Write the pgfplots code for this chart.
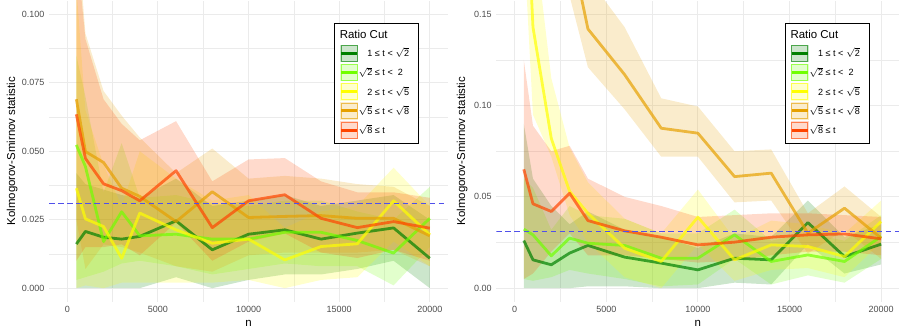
\documentclass[border=0pt]{standalone}
\usepackage{pgfplots}
\pgfplotsset{compat=1.18}
\usepgfplotslibrary{fillbetween}
\usepackage{pgfplotstable}
\usepackage{fontspec}
\setmainfont{Liberation Sans}

\definecolor{cG1}{HTML}{008000}
\definecolor{cG2}{HTML}{70FF00}
\definecolor{cY}{HTML}{FFFF00}
\definecolor{cO}{HTML}{E6A000}
\definecolor{cR}{HTML}{FF4500}
\definecolor{gridc}{HTML}{EBEBEB}
\definecolor{tickc}{HTML}{4D4D4D}
\definecolor{hlc}{RGB}{80,80,235}

\pgfplotstableread{
n g1 g1lo g1hi g2 g2lo g2hi y ylo yhi o olo ohi r rlo rhi
500 0.0161 0.000 0.042 0.0523 0.003 0.085 0.0365 0.000 0.110 0.0690 0.025 0.135 0.0635 0.010 0.125
1000 0.0207 0.000 0.038 0.0444 0.004 0.070 0.0253 0.001 0.065 0.0499 0.007 0.093 0.0474 0.015 0.091
2000 0.0186 0.000 0.036 0.0170 0.006 0.035 0.0225 0.000 0.045 0.0459 0.016 0.072 0.0381 0.015 0.069
3000 0.0179 0.000 0.034 0.0279 0.009 0.053 0.0109 0.002 0.030 0.0365 0.015 0.063 0.0356 0.016 0.060
4000 0.0189 0.000 0.033 0.0191 0.010 0.033 0.0274 0.002 0.050 0.0335 0.013 0.055 0.0319 0.012 0.054
6000 0.0246 0.004 0.040 0.0197 0.008 0.034 0.0213 0.002 0.040 0.0243 0.008 0.042 0.0429 0.024 0.061
8000 0.0140 0.000 0.030 0.0179 0.005 0.031 0.0164 0.002 0.032 0.0352 0.006 0.051 0.0221 0.010 0.039
10000 0.0197 0.003 0.032 0.0179 0.007 0.030 0.0179 0.003 0.034 0.0258 0.012 0.040 0.0319 0.017 0.047
12000 0.0213 0.005 0.034 0.0204 0.009 0.032 0.0103 0.000 0.022 0.0262 0.013 0.041 0.0341 0.020 0.0475
14000 0.0179 0.005 0.030 0.0204 0.008 0.032 0.0152 0.003 0.028 0.0265 0.013 0.040 0.0255 0.013 0.039
16000 0.0201 0.007 0.032 0.0174 0.008 0.028 0.0162 0.004 0.030 0.0255 0.013 0.038 0.0221 0.011 0.035
18000 0.0220 0.010 0.034 0.0128 0.001 0.025 0.0319 0.017 0.044 0.0255 0.014 0.037 0.0243 0.014 0.035
20000 0.0109 0.000 0.025 0.0255 0.015 0.037 0.0195 0.008 0.030 0.0191 0.008 0.030 0.0219 0.010 0.033
}\leftdata

\pgfplotstableread{
n g1 g1lo g1hi g2 g2lo g2hi y ylo yhi o olo ohi r rlo rhi
500 0.0261 0.000 0.090 0.0323 0.005 0.060 0.250 0.190 0.320 0.450 0.400 0.500 0.0651 0.005 0.125
1000 0.0155 0.000 0.060 0.0292 0.004 0.055 0.143 0.095 0.200 0.350 0.300 0.400 0.0462 0.008 0.089
2000 0.0128 0.000 0.045 0.0177 0.006 0.032 0.082 0.072 0.115 0.250 0.210 0.300 0.0420 0.020 0.075
3000 0.0192 0.000 0.035 0.0274 0.010 0.045 0.053 0.040 0.077 0.190 0.160 0.230 0.0520 0.030 0.078
4000 0.0234 0.001 0.042 0.0246 0.008 0.040 0.041 0.025 0.058 0.142 0.121 0.170 0.0370 0.018 0.060
6000 0.0170 0.001 0.032 0.0234 0.005 0.038 0.0219 0.006 0.038 0.117 0.098 0.143 0.0314 0.018 0.050
8000 0.0137 0.000 0.028 0.0164 0.001 0.030 0.0146 0.000 0.030 0.0876 0.072 0.104 0.0279 0.016 0.045
10000 0.0100 0.000 0.022 0.0164 0.002 0.030 0.0389 0.024 0.054 0.0849 0.072 0.0995 0.0237 0.014 0.039
12000 0.0164 0.003 0.030 0.0292 0.016 0.043 0.0155 0.004 0.027 0.0611 0.047 0.075 0.0252 0.015 0.040
14000 0.0155 0.002 0.028 0.0146 0.002 0.026 0.0237 0.010 0.037 0.0630 0.048 0.076 0.0279 0.018 0.041
16000 0.0359 0.024 0.048 0.0182 0.007 0.030 0.0228 0.011 0.035 0.0301 0.019 0.041 0.0292 0.020 0.041
18000 0.0173 0.008 0.028 0.0146 0.003 0.026 0.0173 0.006 0.030 0.0438 0.032 0.0557 0.0297 0.020 0.040
20000 0.0241 0.013 0.035 0.0283 0.016 0.040 0.0365 0.025 0.048 0.0274 0.016 0.039 0.0270 0.018 0.039
}\rightdata

\newcommand{\band}[5]{%
  \addplot[draw=none, name path=lo#5, forget plot] table[x=n, y=#2lo]{#1};
  \addplot[draw=none, name path=hi#5, forget plot] table[x=n, y=#2hi]{#1};
  \addplot[fill=#3, fill opacity=0.2, draw=none, forget plot] fill between[of=hi#5 and lo#5];
}
\newcommand{\mline}[3]{%
  \addplot[draw=#3, draw opacity=0.7, line width=2.1pt, line join=round, forget plot] table[x=n, y=#2]{#1};
}
\newcommand{\refline}{%
  \addplot[color=hlc, line width=1pt, dash pattern=on 4pt off 2.8pt, forget plot] coordinates {(-1000,0.031) (21000,0.031)};
}
\newcommand{\rt}[1]{$\sqrt{\hbox{#1}}$}
\newcommand{\lbl}[3]{\makebox[37pt][l]{\makebox[8.5pt][r]{#1} ≤ t #2 #3}}
\newcommand{\key}[1]{%
  \addlegendimage{legend image code/.code={%
    \fill[#1!20] (0pt,-6.3pt) rectangle (12.6pt,6.3pt);
    \draw[#1!70, line width=0.7pt] (0.35pt,-5.95pt) rectangle (12.25pt,5.95pt);
    \draw[#1, line width=2.2pt] (0.35pt,0pt) -- (12.25pt,0pt);
  }}}

\pgfplotsset{
  ksaxis/.style={
    scale only axis, height=226pt,
    xmin=-1000, xmax=21000,
    xtick={0,5000,10000,15000,20000},
    minor x tick num=1, minor y tick num=1,
    grid=both,
    major grid style={gridc, line width=0.8pt},
    minor grid style={gridc, line width=0.45pt},
    axis line style={draw=none},
    major tick length=0pt, minor tick length=0pt,
    tick label style={font=\fontsize{6.75}{8}\selectfont, text=tickc},
    /pgf/number format/assume math mode=true,
    /pgf/number format/1000 sep={},
    scaled y ticks=false, scaled x ticks=false,
    xlabel={n}, ylabel={Kolmogorov-Smirnov statistic},
    every axis x label/.style={at={(axis description cs:0.5,0)}, anchor=center, yshift=-16pt, font=\fontsize{8.6}{10}\selectfont},
    legend cell align=left,
    legend style={anchor=north west, draw=black, line width=0.7pt, fill=white,
      font=\fontsize{6.8}{7.5}\selectfont, inner xsep=4pt, inner ysep=3pt, row sep=1.1pt},
  }
}

\begin{document}
\begin{tikzpicture}
\path (0,0) rectangle (675pt,249.75pt);
% left panel
\begin{axis}[ksaxis,
  at={(36.9pt,23.25pt)}, anchor=south west, width=299.25pt,
  ymin=-0.005, ymax=0.105,
  ytick={0,0.025,0.05,0.075,0.1},
  yticklabel style={/pgf/number format/fixed, /pgf/number format/fixed zerofill, /pgf/number format/precision=3},
  every axis y label/.style={at={(axis description cs:0,0.5)}, xshift=-27.7pt, rotate=90, anchor=center, font=\fontsize{8.6}{10}\selectfont},
  legend style={at={(0.714,0.926)}},
]
\band{\leftdata}{g1}{cG1}{}{La}
\band{\leftdata}{g2}{cG2}{}{Lb}
\band{\leftdata}{y}{cY}{}{Lc}
\band{\leftdata}{o}{cO}{}{Ld}
\band{\leftdata}{r}{cR}{}{Le}
\mline{\leftdata}{g1}{cG1}
\mline{\leftdata}{g2}{cG2}
\mline{\leftdata}{y}{cY}
\mline{\leftdata}{o}{cO}
\mline{\leftdata}{r}{cR}
\refline
\addlegendimage{empty legend}
\addlegendentry[font=\fontsize{8.6}{10}\selectfont]{\hspace*{-16pt}\rule[-4pt]{0pt}{9pt}Ratio Cut}
\key{cG1}\addlegendentry{\lbl{1}{<}{\rt{2}}}
\key{cG2}\addlegendentry{\lbl{\rt{2}}{<}{\ 2}}
\key{cY}\addlegendentry{\lbl{2}{<}{\rt{5}}}
\key{cO}\addlegendentry{\lbl{\rt{5}}{<}{\rt{8}}}
\key{cR}\addlegendentry{\lbl{\rt{8}}{}{}}
\end{axis}
% right panel
\begin{axis}[ksaxis,
  at={(372.45pt,23.25pt)}, anchor=south west, width=302.55pt,
  ymin=-0.0075, ymax=0.1575,
  ytick={0,0.05,0.1,0.15},
  yticklabel style={/pgf/number format/fixed, /pgf/number format/fixed zerofill, /pgf/number format/precision=2},
  every axis y label/.style={at={(axis description cs:0,0.5)}, xshift=-25.7pt, rotate=90, anchor=center, font=\fontsize{8.6}{10}\selectfont},
  legend style={at={(0.715,0.926)}},
]
\band{\rightdata}{g1}{cG1}{}{Ra}
\band{\rightdata}{g2}{cG2}{}{Rb}
\band{\rightdata}{y}{cY}{}{Rc}
\band{\rightdata}{o}{cO}{}{Rd}
\band{\rightdata}{r}{cR}{}{Re}
\mline{\rightdata}{g1}{cG1}
\mline{\rightdata}{g2}{cG2}
\mline{\rightdata}{y}{cY}
\mline{\rightdata}{o}{cO}
\mline{\rightdata}{r}{cR}
\refline
\addlegendimage{empty legend}
\addlegendentry[font=\fontsize{8.6}{10}\selectfont]{\hspace*{-16pt}\rule[-4pt]{0pt}{9pt}Ratio Cut}
\key{cG1}\addlegendentry{\lbl{1}{<}{\rt{2}}}
\key{cG2}\addlegendentry{\lbl{\rt{2}}{<}{\ 2}}
\key{cY}\addlegendentry{\lbl{2}{<}{\rt{5}}}
\key{cO}\addlegendentry{\lbl{\rt{5}}{<}{\rt{8}}}
\key{cR}\addlegendentry{\lbl{\rt{8}}{}{}}
\end{axis}
\end{tikzpicture}
\end{document}
